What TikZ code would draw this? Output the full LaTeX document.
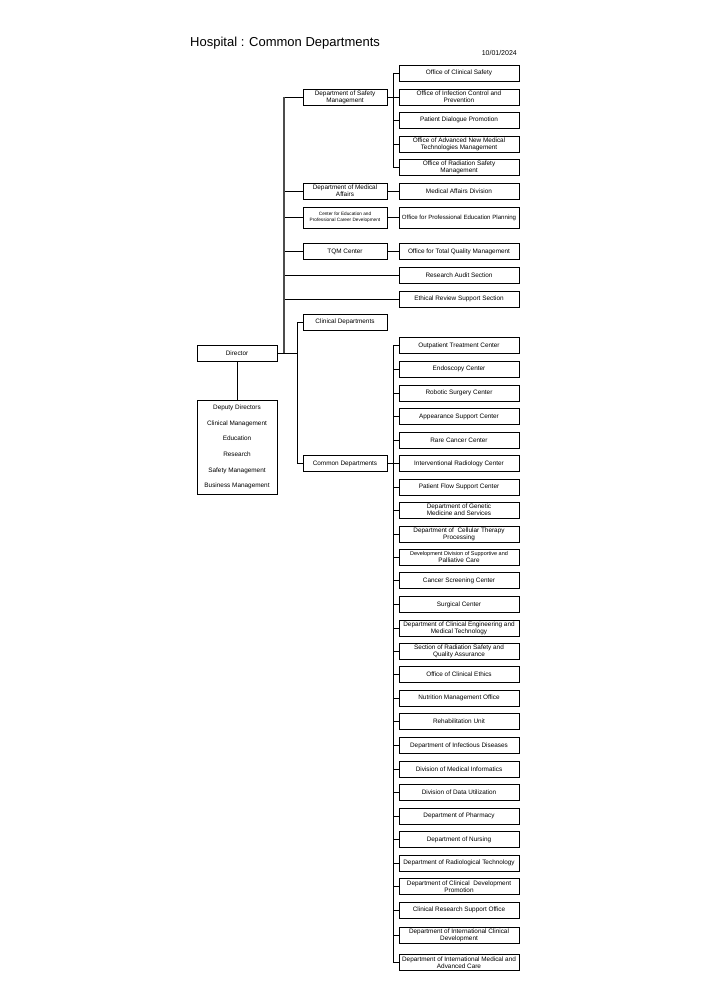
\documentclass[tikz,border=0pt]{standalone}
\usepackage{fontspec}
\setmainfont{Liberation Sans}
\usetikzlibrary{positioning}
\tikzset{
  unit/.style={
    draw,
    line width = 0.8pt,
    shape = rectangle,
    inner sep = 0.5pt,
    align = center,
    minimum height = 16pt,
    font = \fontsize{6.4}{7.0}\selectfont
  },
  office/.style={
    unit,
    minimum width = 120pt
  },
  dept/.style={
    unit,
    minimum width = 84pt
  },
  head/.style={
    unit,
    minimum width = 80pt
  },
}
\tikzset{
  link/.style={
    line width = 0.8pt
  },
  trunk/.style={
    line width = 1.3pt,
    draw = black!70
  },
}

\begin{document}
\begin{tikzpicture}[x=1pt,y=-1pt]
\useasboundingbox (0,0) rectangle (707,1000);
\node[anchor=base west, inner sep=0, font=\fontsize{13}{15}\selectfont] (title) at (190,46.5) {Hospital : Common Departments};
\node[anchor=base east, inner sep=0, font=\fontsize{7}{8}\selectfont] (date) at (517,55.7) {10/01/2024};

\node[head] (director) at (237,353.5) {Director};
\node[head, minimum height=94pt, font=\fontsize{6.4}{15.6}\selectfont] (deputy) at (237,447) {Deputy Directors\\Clinical Management\\Education\\Research\\Safety Management\\Business Management};

\node[dept] (safety) at (345,97) {Department of Safety\\Management};
\node[dept] (medaff) at (345,191) {Department of Medical\\Affairs};
\node[dept, minimum height=21pt, font=\fontsize{4.7}{6}\selectfont] (career) at (345,217.5) {Center for Education and\\Professional Career Development};
\node[dept] (tqm) at (345,251.5) {TQM Center};
\node[dept] (clinical) at (345,322) {Clinical Departments};
\node[dept] (common) at (345,463.5) {Common Departments};

		  \foreach \y/\txt [count=\i] in {73/Office of Clinical Safety, 97/{Office of Infection Control and\\Prevention}, 120/Patient Dialogue Promotion, 144/{Office of Advanced New Medical\\Technologies Management}, 167.5/{Office of Radiation Safety\\Management}}{
		    \node[office] (s\i) at (459,\y) {\txt}; }
\node[office] (medaffdiv) at (459,191) {Medical Affairs Division};
\node[office, minimum height=21pt, font=\fontsize{6.1}{7}\selectfont] (eduplan) at (459,217.5) {Office for Professional Education Planning};
\node[office] (tqmoffice) at (459,251.5) {Office for Total Quality Management};
\node[office] (audit) at (459,275.5) {Research Audit Section};
\node[office] (ethics) at (459,299) {Ethical Review Support Section};

		  \foreach \y/\txt [count=\i] in {345.5/Outpatient Treatment Center, 369/Endoscopy Center, 393/Robotic Surgery Center, 416.5/Appearance Support Center, 440/Rare Cancer Center, 463.5/Interventional Radiology Center, 487/Patient Flow Support Center, 510/{Department of Genetic\\Medicine and Services}, 534/{Department of\ \ Cellular Therapy\\Processing}, 557/{\fontsize{5.5}{6.6}\selectfont Development Division of Supportive and\\Palliative Care}, 580.5/Cancer Screening Center, 604.5/Surgical Center, 628/{Department of Clinical Engineering and\\Medical Technology}, 651.5/{Section of Radiation Safety and\\Quality Assurance}, 674.5/Office of Clinical Ethics, 698/Nutrition Management Office, 721.5/Rehabilitation Unit, 745.5/Department of Infectious Diseases, 769/Division of Medical Informatics, 792/Division of Data Utilization, 816/Department of Pharmacy, 839.5/Department of Nursing, 863/Department of Radiological Technology, 886.5/{Department of Clinical\ \ Development\\Promotion}, 910/Clinical Research Support Office, 935.5/{Department of International Clinical\\Development}, 962.5/{Department of International Medical and\\Advanced Care}}{
		    \node[office] (c\i) at (459,\y) {\txt}; }

\coordinate (trunkA) at (284,0);
\coordinate (trunkB) at (297,0);
\coordinate (trunkC) at (393,0);

\foreach \n in {safety,medaff,career,tqm,audit,ethics}
  \draw[link] (\n.west) -- (trunkA |- \n.west);
\draw[trunk] (trunkA |- safety.west) -- (trunkA |- director.east);
\draw[link] (director.east) -- (trunkB |- director.east);
\draw[link] (clinical.west) -| (trunkB |- director.east);
\draw[link] (common.west) -| (trunkB |- director.east);
\draw[link] (director.south) -- (deputy.north);

\draw[link] (medaff.east) -- (medaffdiv.west);
\draw[link] (career.east) -- (eduplan.west);
\draw[link] (tqm.east) -- (tqmoffice.west);

\draw[link] (safety.east) -- (trunkC |- safety.east);
\draw[link] (trunkC |- s1.west) -- (trunkC |- s5.west);
\foreach \i in {1,...,5}
  \draw[link] (s\i.west) -- (trunkC |- s\i.west);

\draw[link] (common.east) -- (trunkC |- common.east);
\draw[link] (trunkC |- c1.west) -- (trunkC |- c27.west);
\foreach \i in {1,...,27}
  \draw[link] (c\i.west) -- (trunkC |- c\i.west);
\end{tikzpicture}
\end{document}
